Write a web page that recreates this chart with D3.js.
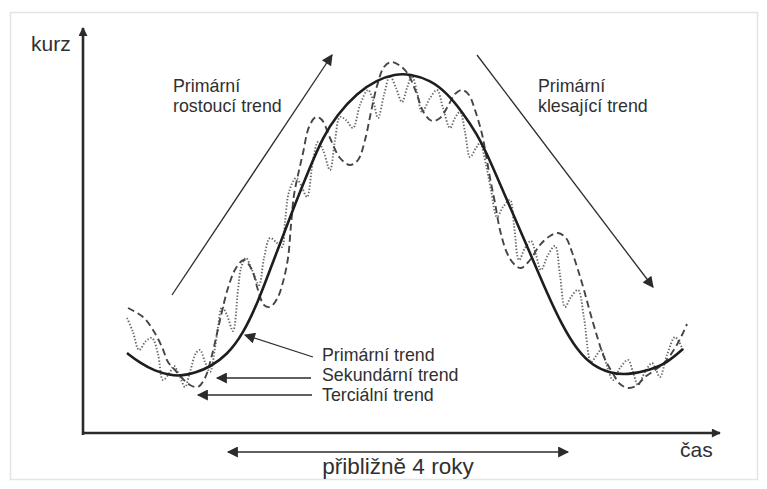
<!DOCTYPE html>
<html lang="cs">
<head>
<meta charset="UTF-8">
<title>Primární, sekundární a terciální trend</title>
<script src="https://d3js.org/d3.v7.min.js"></script>
<style>
  body { margin: 0; background: #fff; }
  svg text { font-family: "Liberation Sans", Arial, sans-serif; fill: #303030; }
</style>
</head>
<body>
<div id="chart"></div>
<script>
// ---- data (x = čas, y = kurz) ----
var primaryX = [44, 57, 72, 87, 97, 112, 127, 144, 160, 175, 190, 207, 227, 240, 254, 274, 294, 312, 327, 347, 364, 380, 394, 404, 414, 424, 447, 464, 479, 494, 510, 527, 544, 567, 584, 600];
var primaryY = [80, 70, 62, 58, 57, 60, 66, 78, 99, 131, 171, 216, 266, 296, 318, 340, 353, 359, 359, 353, 340, 320, 299, 279, 256, 233, 180, 140, 108, 83, 67, 60, 58, 63, 70, 84];

var secondaryX = [45, 60, 70, 79, 85, 92, 99, 107, 115, 122, 129, 137, 145, 153, 161, 169, 175, 181, 187, 194, 200, 205, 208, 211, 215, 220, 226, 233, 239, 247, 257, 267, 275, 282, 288, 294, 301, 308, 316, 325, 333, 341, 349, 357, 365, 372, 379, 386, 392, 399, 403, 407, 412, 417, 424, 431, 438, 447, 457, 467, 475, 483, 489, 495, 501, 507, 514, 521, 529, 537, 545, 553, 562, 572, 582, 592, 599, 604];
var secondaryY = [125, 116, 103, 86, 71, 63, 55, 48, 46, 55, 78, 113, 145, 165, 173, 163, 143, 128, 126, 134, 151, 175, 208, 238, 258, 280, 306, 316, 313, 295, 275, 268, 273, 293, 321, 347, 366, 371, 368, 359, 341, 320, 312, 315, 327, 339, 343, 338, 323, 299, 278, 255, 230, 203, 180, 169, 165, 173, 188, 197, 200, 195, 181, 163, 143, 121, 97, 76, 61, 49, 45, 47, 56, 63, 71, 85, 98, 109];

var tertiaryX = [44, 50, 56, 63, 69, 75, 80, 87, 91, 97, 102, 107, 113, 117, 122, 127, 132, 135, 139, 144, 150, 155, 158, 163, 169, 176, 181, 187, 193, 199, 202, 206, 213, 218, 224, 230, 235, 240, 247, 252, 257, 263, 270, 277, 285, 290, 295, 301, 307, 313, 319, 324, 329, 334, 339, 347, 354, 360, 367, 372, 377, 382, 387, 393, 397, 403, 408, 414, 420, 427, 431, 436, 442, 448, 453, 458, 465, 472, 477, 482, 488, 495, 501, 508, 513, 518, 524, 530, 537, 545, 550, 555, 562, 569, 573, 577, 584, 592, 596, 601];
var tertiaryY = [115, 101, 83, 92, 95, 79, 53, 61, 67, 56, 46, 61, 80, 83, 71, 61, 85, 106, 126, 118, 102, 143, 165, 175, 163, 148, 175, 195, 191, 186, 211, 241, 255, 248, 236, 273, 291, 283, 263, 293, 316, 313, 305, 328, 343, 333, 315, 338, 357, 345, 331, 345, 357, 341, 321, 335, 343, 325, 305, 315, 321, 301, 276, 285, 290, 268, 243, 216, 226, 233, 208, 173, 185, 192, 178, 163, 178, 187, 158, 126, 136, 143, 115, 71, 77, 83, 67, 53, 65, 73, 61, 48, 61, 70, 63, 56, 78, 96, 91, 81];

var trendLabels = ["Primární trend", "Sekundární trend", "Terciální trend"];
var phaseLabels = [["Primární", "rostoucí trend"], ["Primární", "klesající trend"]];
var axisLabels = ["kurz", "čas"];
var spanLabel = "přibližně 4 roky";

// ---- setup ----
var W = 767, H = 489;
var svg = d3.select("#chart").append("svg")
    .attr("width", W)
    .attr("height", H);

// faint frame of the scanned figure
svg.append("rect")
    .attr("x", 10.5).attr("y", 12.5)
    .attr("width", 747).attr("height", 467)
    .style("fill", "none")
    .style("stroke", "#e4e4e4")
    .style("stroke-width", 1.5);

var x = d3.scaleLinear().domain([0, 640]).range([83, 723]);
var y = d3.scaleLinear().domain([0, 400]).range([433, 33]);

// arrow heads
var defs = svg.append("defs");
function head(id, len, wid) {
  defs.append("marker")
      .attr("id", id)
      .attr("viewBox", "0 0 10 10")
      .attr("refX", 9).attr("refY", 5)
      .attr("markerUnits", "userSpaceOnUse")
      .attr("markerWidth", len).attr("markerHeight", wid)
      .attr("orient", "auto-start-reverse")
    .append("path")
      .attr("d", "M0,0 L10,5 L0,10 z")
      .style("fill", "#2b2b2b");
}
head("big", 14, 11);
head("axis", 10, 9);

function arrow(x1, y1, x2, y2, marker, w, both) {
  var l = svg.append("line")
      .attr("x1", x(x1)).attr("y1", y(y1))
      .attr("x2", x(x2)).attr("y2", y(y2))
      .style("stroke", "#2b2b2b")
      .style("stroke-width", w)
      .attr("marker-end", "url(#" + marker + ")");
  if (both) l.attr("marker-start", "url(#" + marker + ")");
  return l;
}

// axes
arrow(0, -2, 0, 405, "axis", 2.6);
arrow(-1, 0, 637, 0, "axis", 2.6);

svg.append("text").attr("x", x(-52)).attr("y", y(382))
    .style("font-size", "21px").text(axisLabels[0]);
svg.append("text").attr("x", x(597)).attr("y", y(-24))
    .style("font-size", "21px").text(axisLabels[1]);

// lines
function series(xs, ys) {
  return xs.map(function(d, i) { return [d, ys[i]]; });
}
var line = d3.line()
    .x(function(d) { return x(d[0]); })
    .y(function(d) { return y(d[1]); })
    .curve(d3.curveCatmullRom.alpha(0.5));
var smooth = d3.line()
    .x(function(d) { return x(d[0]); })
    .y(function(d) { return y(d[1]); })
    .curve(d3.curveBasis);

svg.append("path")
    .datum(series(tertiaryX, tertiaryY))
    .attr("d", line)
    .style("fill", "none")
    .style("stroke", "#6a6a6a")
    .style("stroke-width", 1.9)
    .style("stroke-dasharray", "1.4,1.8");

svg.append("path")
    .datum(series(secondaryX, secondaryY))
    .attr("d", line)
    .style("fill", "none")
    .style("stroke", "#454545")
    .style("stroke-width", 1.9)
    .style("stroke-dasharray", "7,4");

svg.append("path")
    .datum(series(primaryX, primaryY))
    .attr("d", smooth)
    .style("fill", "none")
    .style("stroke", "#1e1e1e")
    .style("stroke-width", 2.6);

// trend direction arrows
arrow(89, 138, 249, 378, "big", 1.3);
arrow(394, 378, 570, 146, "big", 1.3);

[0, 1].forEach(function(i) {
  var tx = [90, 455][i];
  svg.append("text").attr("x", x(tx)).attr("y", y(341))
      .style("font-size", "17.8px").text(phaseLabels[i][0]);
  svg.append("text").attr("x", x(tx)).attr("y", y(321))
      .style("font-size", "17.8px").text(phaseLabels[i][1]);
});

// legend-like labels with pointers
arrow(230, 76, 162, 98, "big", 1.3);
arrow(228, 55, 134, 55, "big", 1.6);
arrow(229, 38, 115, 38, "big", 1.6);
var labelY = [72, 52, 32];
trendLabels.forEach(function(t, i) {
  svg.append("text").attr("x", x(239)).attr("y", y(labelY[i]))
      .style("font-size", "17.8px").text(t);
});

// approx. 4 years span
arrow(145, -19, 485, -19, "big", 1.4, true);
svg.append("text").attr("x", x(315)).attr("y", y(-41))
    .attr("text-anchor", "middle")
    .style("font-size", "22.5px").text(spanLabel);
</script>
</body>
</html>
